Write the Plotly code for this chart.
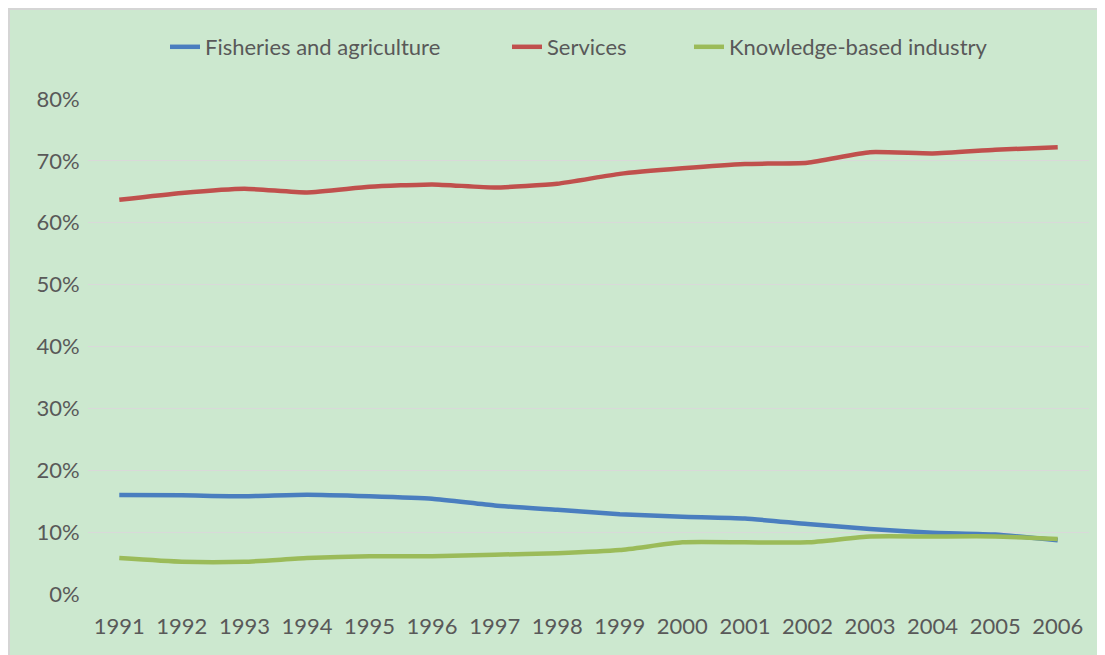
import plotly.graph_objects as go

years = [str(y) for y in range(1991, 2007)]
fisheries = [16.0, 15.95, 15.8, 16.05, 15.8, 15.4, 14.3, 13.6, 12.9, 12.5, 12.2, 11.3, 10.5, 9.9, 9.6, 8.7]
services = [63.7, 64.8, 65.5, 64.9, 65.8, 66.2, 65.7, 66.3, 67.9, 68.8, 69.5, 69.7, 71.4, 71.2, 71.8, 72.2]
knowledge = [5.8, 5.2, 5.2, 5.8, 6.1, 6.1, 6.35, 6.6, 7.1, 8.35, 8.35, 8.35, 9.3, 9.3, 9.3, 8.9]
y_ticks = [0, 10, 20, 30, 40, 50, 60, 70, 80]

series = [
    ("Fisheries and agriculture", fisheries, "#4A7EBF"),
    ("Services", services, "#C0504D"),
    ("Knowledge-based industry", knowledge, "#9BBB59"),
]

BG = "#CCE8CF"
TXT = "#595959"
FONT = "Lato"
FS = 22

W, H = 1097, 647
ML, MR, MT, MB = 80, 16, 91, 61

legend_names = ["legend", "legend2", "legend3"]
legend_left = [157, 499, 681]  # pixel offsets of each legend entry

fig = go.Figure()
for (name, vals, col), lg in zip(series, legend_names):
    fig.add_trace(go.Scatter(
        x=years, y=[v / 100 for v in vals], name=name, mode="lines",
        line=dict(color=col, width=4.5, shape="spline", smoothing=0.5),
        legend=lg,
    ))

legend_style = dict(orientation="h", xref="container", yref="container",
                    xanchor="left", y=1 - 39 / H, yanchor="middle",
                    bgcolor="rgba(0,0,0,0)",
                    font=dict(family=FONT, size=FS, color=TXT))
legends = {lg: dict(legend_style, x=left / W) for lg, left in zip(legend_names, legend_left)}

fig.update_layout(
    width=W, height=H,
    margin=dict(l=ML, r=MR, t=MT, b=MB),
    paper_bgcolor=BG, plot_bgcolor=BG,
    font=dict(family=FONT, size=FS, color=TXT),
    showlegend=True,
    **legends,
    xaxis=dict(type="category", range=[-0.5, len(years) - 0.5],
               showgrid=False, zeroline=False, showline=False,
               ticks="outside", ticklen=13, tickcolor="rgba(0,0,0,0)",
               tickfont=dict(family=FONT, size=FS, color=TXT)),
    yaxis=dict(range=[0, 0.8], tickvals=[t / 100 for t in y_ticks],
               ticktext=[f"{t}%" for t in y_ticks],
               showgrid=True, gridcolor="#D9D9D9", gridwidth=1,
               zeroline=False, showline=False,
               ticks="outside", ticklen=3, tickcolor="rgba(0,0,0,0)",
               tickfont=dict(family=FONT, size=FS, color=TXT)),
)

# thin grey frame line along the figure's top and left edges
pw = W - ML - MR
ph = H - MT - MB
def px_x(p):
    return (p - ML) / pw
def px_y(p):
    return (H - MB - p) / ph
fig.add_shape(type="line", xref="paper", yref="paper",
              x0=px_x(0), x1=px_x(W), y0=px_y(1), y1=px_y(1),
              line=dict(color="#D5D5D5", width=2), layer="above")
fig.add_shape(type="line", xref="paper", yref="paper",
              x0=px_x(1), x1=px_x(1), y0=px_y(H), y1=px_y(0),
              line=dict(color="#D5D5D5", width=2), layer="above")

fig.write_html("out.html")
